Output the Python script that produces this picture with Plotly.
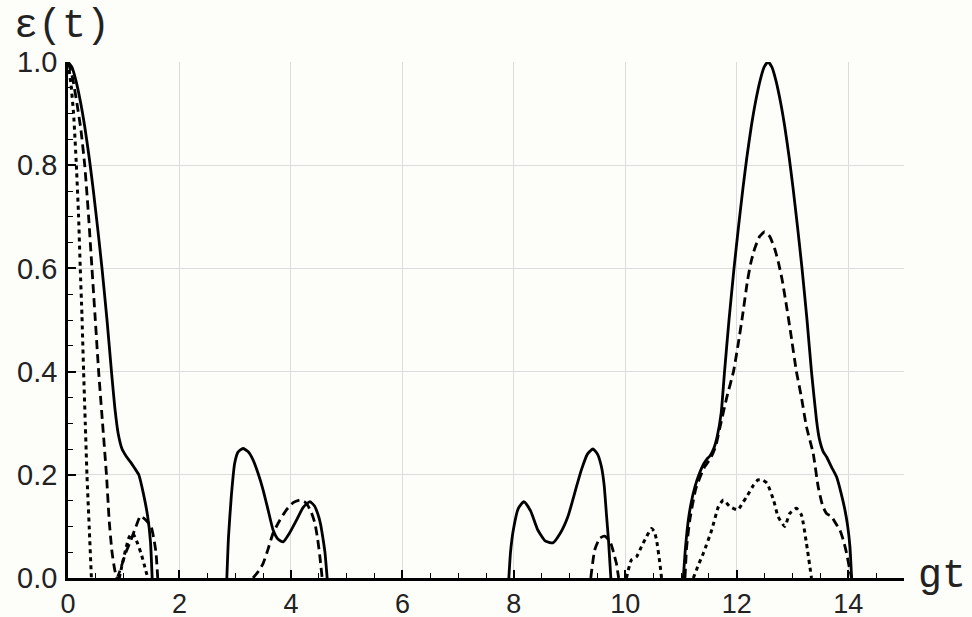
import plotly.graph_objects as go

# ---- data (None = curve lies on the axis, gap) ----
solid_x = [0.00, 0.07, 0.14, 0.22, 0.30, 0.38, 0.45, 0.53, 0.61, 0.70, 0.78, 0.84, 0.90, 0.97, 1.05,
           1.12, 1.20, 1.27, 1.35, 1.43, 1.48, 1.51, None,
           2.85, 2.88, 2.93, 2.99, 3.05, 3.14, 3.23, 3.32, 3.41, 3.50, 3.59, 3.68, 3.77, 3.86, 3.98,
           4.10, 4.22, 4.34, 4.42, 4.48, 4.53, 4.57, 4.61, 4.65, None,
           7.91, 7.94, 7.99, 8.08, 8.18, 8.30, 8.43, 8.56, 8.70, 8.84, 8.97, 9.10, 9.21, 9.32, 9.42,
           9.50, 9.57, 9.62, 9.66, 9.70, 9.74, None,
           11.04, 11.08, 11.13, 11.18, 11.25, 11.32, 11.40, 11.46, 11.52, 11.59, 11.65, 11.72,
           11.78, 11.86, 11.95, 12.03, 12.11, 12.18, 12.26, 12.34, 12.42, 12.49, 12.56,
           12.63, 12.70, 12.78, 12.86, 12.94, 13.01, 13.09, 13.17, 13.26, 13.34, 13.43, 13.48,
           13.55, 13.61, 13.70, 13.79, 13.87, 13.94, 13.99, 14.03, 14.06]
solid_y = [1.000, 0.99, 0.965, 0.925, 0.875, 0.815, 0.755, 0.68, 0.60, 0.50, 0.40, 0.33, 0.28, 0.25, 0.235,
           0.225, 0.212, 0.200, 0.165, 0.119, 0.07, 0.0, None,
           0.0, 0.08, 0.158, 0.222, 0.244, 0.251, 0.245, 0.229, 0.203, 0.171, 0.132, 0.093, 0.075, 0.070, 0.088,
           0.112, 0.137, 0.148, 0.140, 0.125, 0.105, 0.080, 0.05, 0.0, None,
           0.0, 0.05, 0.093, 0.135, 0.148, 0.130, 0.093, 0.072, 0.068, 0.088, 0.119, 0.168, 0.209, 0.240, 0.250,
           0.240, 0.216, 0.18, 0.125, 0.07, 0.0, None,
           0.0, 0.06, 0.112, 0.145, 0.177, 0.20, 0.22, 0.23, 0.237, 0.252, 0.275, 0.32,
           0.40, 0.50, 0.60, 0.68, 0.755, 0.815, 0.875, 0.925, 0.965, 0.99, 1.0,
           0.99, 0.965, 0.925, 0.875, 0.815, 0.755, 0.68, 0.60, 0.50, 0.40, 0.306, 0.27,
           0.245, 0.235, 0.215, 0.196, 0.165, 0.132, 0.10, 0.061, 0.0]

dashed_x = [0.00, 0.08, 0.16, 0.23, 0.30, 0.37, 0.43, 0.49, 0.55, 0.62, 0.69, 0.74, 0.79, 0.84, 0.88,
            0.95, 1.04, 1.13, 1.22, 1.30, 1.40, 1.49, 1.55, 1.58, 1.61, None,
            3.32, 3.41, 3.50, 3.59, 3.68, 3.80, 3.92, 4.04, 4.16, 4.24, 4.30, 4.37, 4.43, 4.48, 4.52, 4.56, None,
            9.38, 9.45, 9.54, 9.63, 9.70, 9.75, 9.80, 9.84, 9.88, None,
            11.07, 11.10, 11.16, 11.27, 11.42, 11.53, 11.62, 11.70, 11.82, 11.94, 12.02, 12.10, 12.19,
            12.25, 12.32, 12.41, 12.50, 12.59, 12.68, 12.75, 12.81, 12.88, 12.96, 13.07,
            13.16, 13.25, 13.37, 13.46, 13.54, 13.61, 13.70, 13.78, 13.85, 13.92, 13.97, 14.02, 14.06]
dashed_y = [1.0, 0.97, 0.92, 0.87, 0.80, 0.70, 0.60, 0.50, 0.40, 0.30, 0.20, 0.11, 0.05, 0.015, 0.0,
            0.02, 0.05, 0.074, 0.10, 0.12, 0.112, 0.10, 0.07, 0.048, 0.0, None,
            0.0, 0.012, 0.028, 0.056, 0.087, 0.112, 0.132, 0.146, 0.151, 0.148, 0.141, 0.126, 0.106, 0.075, 0.041, 0.0, None,
            0.0, 0.054, 0.077, 0.081, 0.074, 0.064, 0.045, 0.028, 0.0, None,
            0.0, 0.06, 0.115, 0.175, 0.215, 0.232, 0.255, 0.293, 0.35, 0.40, 0.45, 0.506, 0.575,
            0.61, 0.638, 0.662, 0.671, 0.662, 0.638, 0.61, 0.58, 0.535, 0.48, 0.40,
            0.35, 0.293, 0.242, 0.177, 0.14, 0.125, 0.119, 0.105, 0.093, 0.07, 0.048, 0.02, 0.0]

dotted_x = [0.00, 0.05, 0.10, 0.15, 0.19, 0.22, 0.25, 0.28, 0.31, 0.34, 0.38, 0.42, None,
            0.92, 0.98, 1.045, 1.10, 1.16, 1.23, 1.31, 1.37, 1.43, None,
            10.02, 10.11, 10.20, 10.29, 10.38, 10.47, 10.52, 10.56, 10.62, 10.65, None,
            11.22, 11.31, 11.40, 11.55, 11.67, 11.76, 11.88, 12.02, 12.10, 12.18, 12.30, 12.38, 12.46,
            12.54, 12.66, 12.74, 12.86, 12.95, 13.07, 13.16, 13.25, 13.34]
dotted_y = [1.0, 0.96, 0.90, 0.80, 0.70, 0.60, 0.51, 0.40, 0.30, 0.20, 0.10, 0.0, None,
            0.0, 0.03, 0.06, 0.08, 0.087, 0.072, 0.048, 0.025, 0.0, None,
            0.0, 0.035, 0.041, 0.061, 0.080, 0.096, 0.09, 0.074, 0.028, 0.0, None,
            0.0, 0.025, 0.048, 0.093, 0.138, 0.151, 0.138, 0.132, 0.145, 0.158, 0.180, 0.190, 0.19,
            0.184, 0.151, 0.119, 0.100, 0.125, 0.135, 0.122, 0.067, 0.0]

x_ticks = [0, 2, 4, 6, 8, 10, 12, 14]
x_tick_labels = ["0", "2", "4", "6", "8", "10", "12", "14"]
y_ticks = [0.0, 0.2, 0.4, 0.6, 0.8, 1.0]
y_tick_labels = ["0.0", "0.2", "0.4", "0.6", "0.8", "1.0"]

BG = "#fdfdfa"
fig = go.Figure()
for xs, ys, dash, w in [(solid_x, solid_y, "solid", 2.8),
                        (dashed_x, dashed_y, "9px,5px", 2.8),
                        (dotted_x, dotted_y, "4px,4px", 3.0)]:
    fig.add_trace(go.Scatter(x=xs, y=ys, mode="lines", connectgaps=False,
                             line=dict(color="black", width=w, dash=dash, shape="spline", smoothing=0.5),
                             showlegend=False, hoverinfo="skip"))

fig.update_xaxes(range=[0, 15], tickvals=x_ticks, ticktext=x_tick_labels, showgrid=True,
                 gridcolor="#dcdcdc", gridwidth=1, zeroline=False, showline=True, linecolor="black",
                 linewidth=2.5, ticks="inside", ticklen=8, tickwidth=1.6, tickcolor="black",
                 tickfont=dict(family="Liberation Sans, Arial, sans-serif", size=27, color="#222"),
                 automargin=False, ticklabelstandoff=0,
                 minor=dict(dtick=0.5, tick0=0, ticks="inside", ticklen=5, tickwidth=1.4,
                            tickcolor="black", showgrid=False))
fig.update_yaxes(range=[0, 1.0], tickvals=y_ticks, ticktext=y_tick_labels, showgrid=True,
                 gridcolor="#dcdcdc", gridwidth=1, zeroline=False, showline=True, linecolor="black",
                 linewidth=2.5, ticks="inside", ticklen=8, tickwidth=1.6, tickcolor="black",
                 tickfont=dict(family="Liberation Sans, Arial, sans-serif", size=29, color="#222"),
                 automargin=False, ticklabelstandoff=2,
                 minor=dict(dtick=0.05, tick0=0, ticks="inside", ticklen=5, tickwidth=1.4,
                            tickcolor="black", showgrid=False))

label_font = dict(family="Liberation Mono, Courier New, monospace", size=40, color="#222")
fig.add_annotation(text="ε(t)", xref="paper", yref="paper", x=0, y=1, xanchor="left",
                   yanchor="middle", xshift=-56, yshift=36, showarrow=False, font=label_font)
fig.add_annotation(text="gt", xref="paper", yref="paper", x=1, y=0, xanchor="left",
                   yanchor="middle", xshift=12, yshift=2, showarrow=False, font=label_font)

fig.update_layout(width=972, height=617, margin=dict(l=68, r=68, t=62, b=39, autoexpand=False),
                  plot_bgcolor=BG, paper_bgcolor=BG)
fig.write_html("out.html", config={"displayModeBar": False},
               post_script="document.body.style.margin='0';document.body.style.background='%s';" % BG)
